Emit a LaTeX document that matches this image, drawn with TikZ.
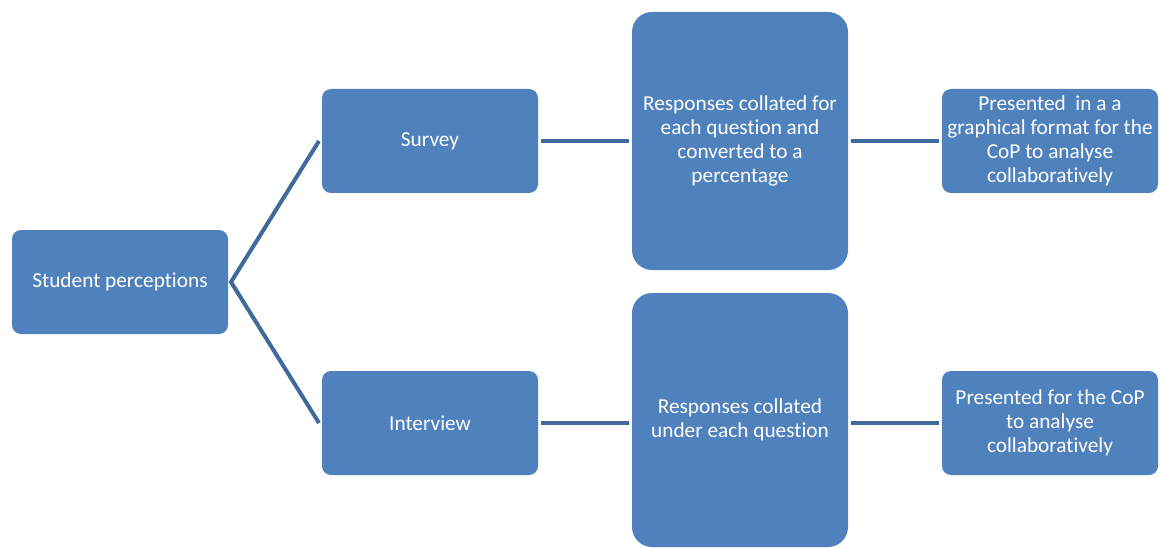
\documentclass[tikz,border=0pt]{standalone}
\usepackage{fontspec}
\setmainfont{Carlito}[Ligatures=NoCommon]
\usepackage{tikz}
\usetikzlibrary{positioning}
\definecolor{boxcolor}{RGB}{79,129,189}
\definecolor{linkcolor}{RGB}{64,106,158}

\begin{document}
\begin{tikzpicture}[x=1pt,y=-1pt,
    stage/.style={fill=boxcolor, text=white, rounded corners=9pt, align=center,
      minimum width=216pt, minimum height=104pt, inner sep=1pt, outer sep=3pt,
      font=\fontsize{21.3}{24}\selectfont},
    tallstage/.style={stage, rounded corners=20pt, minimum height=257pt},
    link/.style={draw=linkcolor, line width=4pt}]
    \useasboundingbox (0,0) rectangle (1164,548);
    % boxes, left to right
    \node[stage] (perceptions) at (120,282) {Student perceptions};
    \node[stage] (survey) at (430,141) {Survey};
    \node[stage] (interview) at (430,423) {Interview};
    \node[tallstage, minimum height=258pt] (collated) at (740,141)
      {Responses collated for\\each question and\\converted to a\\percentage};
    \node[tallstage, minimum height=254pt] (underq) at (740,420)
      {Responses collated\\under each question};
    \node[stage] (graphical) at (1050,141)
      {Presented\ \ in a a\\graphical format for the\\CoP to analyse\\collaboratively};
    \node[stage] (forcop) at (1050,423)
      {Presented for the CoP\\to analyse\\collaboratively};
    % connectors
    \draw[link] (survey.west) -- (perceptions.east) -- (interview.west);
    \draw[link] (survey) -- (collated);
    \draw[link] (collated) -- (graphical);
    \draw[link] (interview.east) -- (interview.east -| underq.west);
    \draw[link] (forcop.west -| underq.east) -- (forcop.west);
  \end{tikzpicture}
\end{document}
